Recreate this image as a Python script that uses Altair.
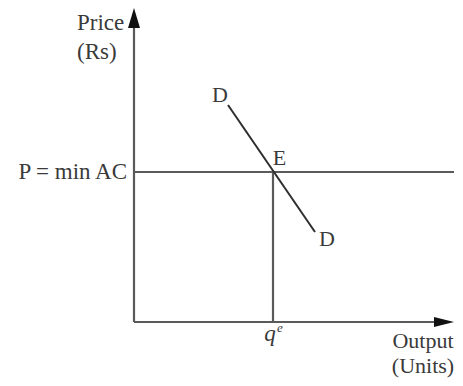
import altair as alt
import pandas as pd

# Economic quantities (diagram units)
price_level = 15.0          # P = min AC
q_e = 13.9                  # equilibrium output
demand_x = [9.4, 18.1]
demand_y = [21.7, 9.0]
x_axis_end = 30.9
y_axis_end = 30.3
h_line_end = 32.0

labels = ["D", "E", "D"]
label_x = [8.6, 14.55, 19.3]
label_y = [22.7, 16.45, 8.35]

FONT = "Liberation Serif"
TXT = "#3a3a3a"
LINE = "#5a5a5a"

xs = alt.Scale(domain=[-12.6, 32.1], nice=False, zero=False)
ys = alt.Scale(domain=[-5.6, 31.4], nice=False, zero=False)

def X(f="x"):
    return alt.X(f"{f}:Q", scale=xs, axis=None)

def Y(f="y"):
    return alt.Y(f"{f}:Q", scale=ys, axis=None)

segs = pd.DataFrame({
    "x": [0, 0, 0, q_e],
    "y": [0, 0, price_level, 0],
    "x2": [x_axis_end, 0, h_line_end, q_e],
    "y2": [0, y_axis_end, price_level, price_level],
})
seg_layer = alt.Chart(segs).mark_rule(color=LINE, strokeWidth=2.2).encode(
    x=X(), y=Y(), x2="x2:Q", y2="y2:Q")

demand = pd.DataFrame({"x": demand_x, "y": demand_y})
demand_layer = alt.Chart(demand).mark_line(color="#2e2e2e", strokeWidth=2).encode(
    x=X(), y=Y())

up_arrow = alt.Chart(pd.DataFrame({"x": [0], "y": [30.4]})).mark_point(
    shape="M-0.6,1L0,-1L0.6,1Z", size=400, filled=True, color="#111", opacity=1,
    strokeWidth=0).encode(x=X(), y=Y())
right_arrow = alt.Chart(pd.DataFrame({"x": [31.0], "y": [0]})).mark_point(
    shape="M-1,-0.5L1,0L-1,0.5Z", size=400, filled=True, color="#111", opacity=1,
    strokeWidth=0).encode(x=X(), y=Y())

pts = alt.Chart(pd.DataFrame({"t": labels, "x": label_x, "y": label_y})).mark_text(
    font=FONT, fontSize=22, color=TXT, baseline="middle", align="center").encode(
    x=X(), y=Y(), text="t:N")

left_txt = alt.Chart(pd.DataFrame({"t": ["Price", "(Rs)"], "x": [-5.7, -5.7], "y": [29.2, 26.3]})).mark_text(
    font=FONT, fontSize=23, color=TXT, baseline="alphabetic", align="left").encode(
    x=X(), y=Y(), text="t:N")

p_txt = alt.Chart(pd.DataFrame({"t": ["P = min AC"], "x": [-0.7], "y": [price_level]})).mark_text(
    font=FONT, fontSize=23, color=TXT, baseline="middle", align="right").encode(
    x=X(), y=Y(), text="t:N")

out_txt = alt.Chart(pd.DataFrame({"t": ["Output", "(Units)"], "x": [28.9, 28.9], "y": [-2.6, -5.1]})).mark_text(
    font=FONT, fontSize=22, color=TXT, baseline="alphabetic", align="center").encode(
    x=X(), y=Y(), text="t:N")

q_txt = alt.Chart(pd.DataFrame({"t": ["q"], "x": [13.6], "y": [-1.9]})).mark_text(
    font=FONT, fontSize=23, fontStyle="italic", color=TXT, baseline="alphabetic", align="center").encode(
    x=X(), y=Y(), text="t:N")
e_txt = alt.Chart(pd.DataFrame({"t": ["e"], "x": [14.3], "y": [-1.0]})).mark_text(
    font=FONT, fontSize=13, fontStyle="italic", color=TXT, baseline="alphabetic", align="left").encode(
    x=X(), y=Y(), text="t:N")

chart = alt.layer(
    seg_layer, demand_layer, up_arrow, right_arrow, pts, left_txt, p_txt, out_txt, q_txt, e_txt
).properties(
    width=447, height=370, padding=0, autosize=alt.AutoSizeParams(type="none"),
    background="white"
).configure_view(stroke=None)

chart.save("out.html", embed_options={"renderer": "svg", "actions": False})
